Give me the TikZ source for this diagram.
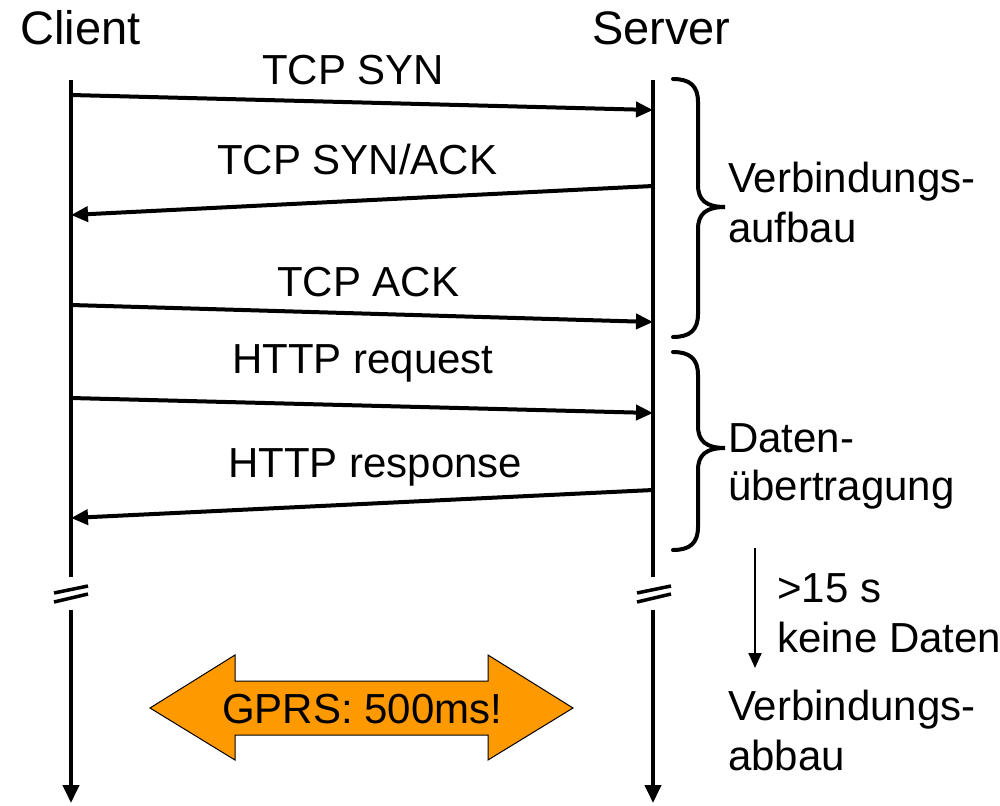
\documentclass[tikz,border=0pt]{standalone}
\usepackage{fontspec}
\setmainfont{Liberation Sans}
\usetikzlibrary{arrows.meta}
\definecolor{gprsorange}{HTML}{FF9900}
\begin{document}
\begin{tikzpicture}[x=1pt,y=-1pt,
  txt/.style={inner sep=0pt,anchor=base west,font=\fontsize{42}{50}\selectfont},
  ttl/.style={inner sep=0pt,anchor=base west,font=\fontsize{47}{56}\selectfont},
  msg/.style={line width=4pt,-{Triangle[length=17pt,width=15pt]}},
  life/.style={line width=4pt},
  lifeend/.style={line width=4pt,-{Triangle[length=18pt,width=16pt]}},
  brk/.style={line width=3.5pt},
  bracepath/.style={line width=4pt,line cap=round},
  thin/.style={line width=2pt,-{Triangle[length=15pt,width=13pt]}},
  gprs/.style={draw=black,line width=1pt,fill=gprsorange}]
\useasboundingbox (0,0) rectangle (1000,805);

% titles
\node[ttl] (client) at (20,45) {Client};
\node[ttl] (server) at (592,45) {Server};

% lifelines
\coordinate (ctop) at (71,80);
\coordinate (cb1) at (71,577);
\coordinate (cb2) at (71,610);
\coordinate (cbot) at (71,803);
\coordinate (stop) at (653,80);
\coordinate (sb1) at (653,577);
\coordinate (sb2) at (653,610);
\coordinate (sbot) at (653,803);
\draw[life] (ctop) -- (cb1);
\draw[lifeend] (cb2) -- (cbot);
\draw[life] (stop) -- (sb1);
\draw[lifeend] (sb2) -- (sbot);

% break marks
\draw[brk] (54,593) -- (88,586);
\draw[brk] (54,602) -- (88,594);
\draw[brk] (637,593) -- (671,586);
\draw[brk] (637,602) -- (671,594);

% messages
\coordinate (c1) at (71,95);   \coordinate (s1) at (653,110);
\coordinate (s2) at (653,186); \coordinate (c2) at (71,215);
\coordinate (c3) at (71,305);  \coordinate (s3) at (653,322);
\coordinate (c4) at (71,398);  \coordinate (s4) at (653,413);
\coordinate (s5) at (653,490); \coordinate (c5) at (71,518);
\draw[msg] (c1) -- (s1);
\draw[msg] (s2) -- (c2);
\draw[msg] (c3) -- (s3);
\draw[msg] (c4) -- (s4);
\draw[msg] (s5) -- (c5);

\node[txt] (l1) at (262,85) {TCP SYN};
\node[txt] (l2) at (217,175) {TCP SYN/ACK};
\node[txt] (l3) at (277,296) {TCP ACK};
\node[txt] (l4) at (232,373) {HTTP request};
\node[txt] (l5) at (228,477) {HTTP response};

% braces
\draw[bracepath] (673,79) .. controls (690,79) and (698,86) .. (698,102)
  -- (698,185) .. controls (698,200) and (706,207) .. (725,207)
  .. controls (706,207) and (698,214) .. (698,229)
  -- (698,314) .. controls (698,330) and (690,337) .. (673,337);
\draw[bracepath] (673,352) .. controls (690,352) and (698,359) .. (698,375)
  -- (698,426) .. controls (698,441) and (706,448) .. (725,448)
  .. controls (706,448) and (698,455) .. (698,470)
  -- (698,527) .. controls (698,543) and (690,550) .. (673,550);

\node[txt] (v1) at (728,192) {Verbindungs-};
\node[txt] (v2) at (728,242) {aufbau};
\node[txt] (d1) at (728,452) {Daten-};
\node[txt] (d2) at (728,500) {übertragung};

% timeout arrow
\coordinate (tt) at (755,548);
\coordinate (tb) at (755,668);
\draw[thin] (tt) -- (tb);
\node[txt] (k1) at (777,602) {>15 s};
\node[txt] (k2) at (777,652) {keine Daten};
\node[txt] (a1) at (728,720) {Verbindungs-};
\node[txt] (a2) at (728,770) {abbau};

% GPRS double arrow
\draw[gprs] (150,708) -- (235,655) -- (235,681) -- (488,681) -- (488,655)
  -- (573,708) -- (488,760) -- (488,735) -- (235,735) -- (235,760) -- cycle;
\node[txt] (g) at (222,723) {GPRS: 500ms!};
\end{tikzpicture}
\end{document}
